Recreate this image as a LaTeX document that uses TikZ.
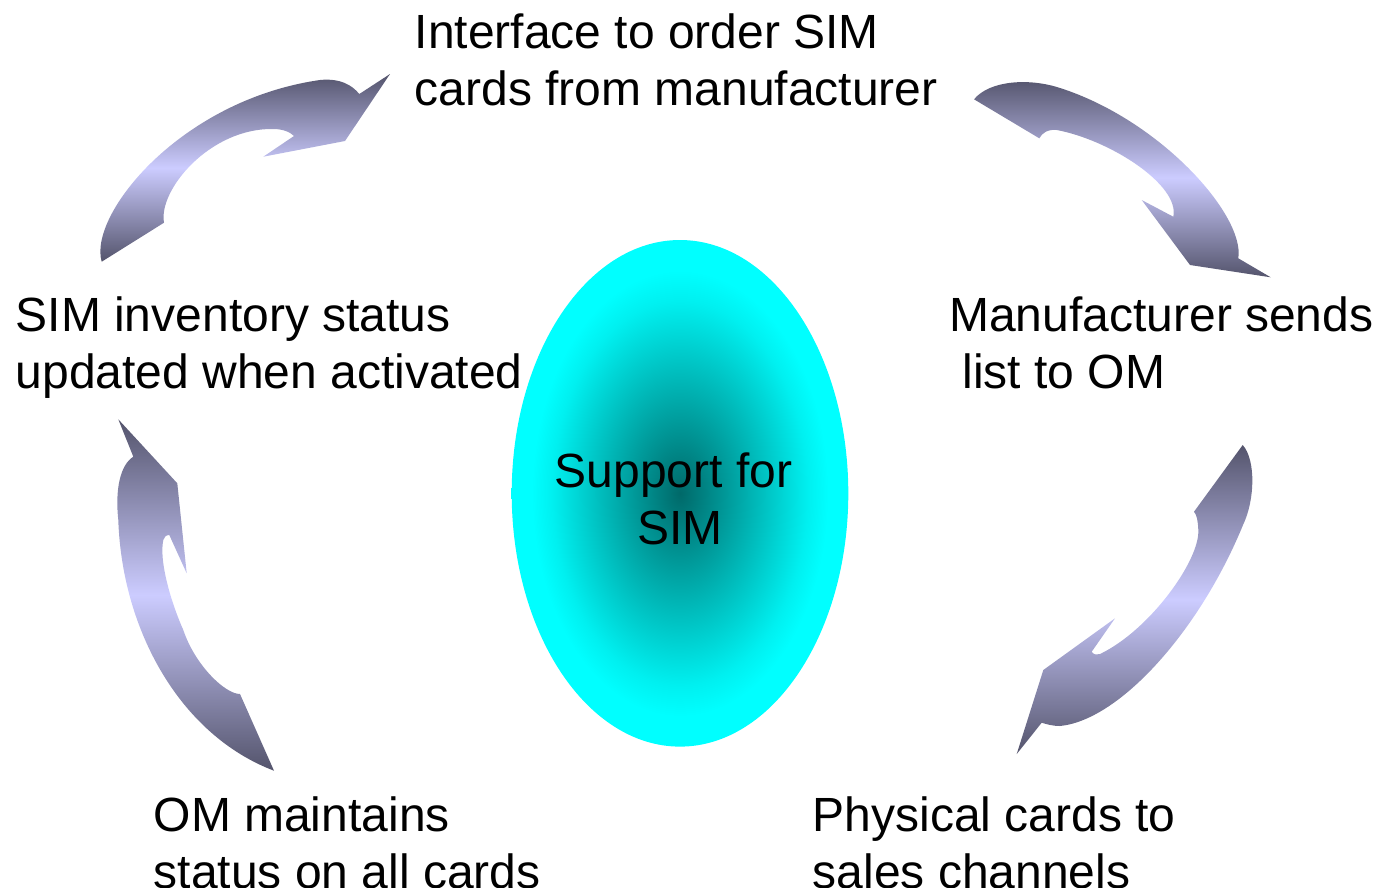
\documentclass[tikz,border=0pt]{standalone}
\usepackage{fontspec}
\setmainfont{Liberation Sans}
\usetikzlibrary{shapes.geometric}

\definecolor{arrowDark}{RGB}{84,84,108}
\definecolor{arrowLight}{RGB}{204,204,255}
\definecolor{coreDark}{RGB}{0,105,105}
\definecolor{coreMid}{RGB}{0,190,190}
\definecolor{coreRim}{RGB}{0,240,240}

% teal core fading out to cyan towards the rim
\pgfdeclareradialshading{coreglow}{\pgfpointorigin}{%
  color(0bp)=(coreDark); color(12bp)=(coreMid); color(19bp)=(coreRim);
  color(22bp)=(cyan); color(50bp)=(cyan)}

\begin{document}
\begin{tikzpicture}[x=1pt,y=-1pt,
  bigtext/.style={font=\fontsize{48}{57}\selectfont},
  % anchored at the baseline of the second line
  cyclelabel/.style={bigtext, anchor=base west, align=left, inner sep=0pt},
  curvedarrow/.style={top color=arrowDark, bottom color=arrowDark,
    middle color=arrowLight, draw=none}]

\useasboundingbox (0,0) rectangle (1380,887);

% centre
\node[ellipse, minimum width=336.6pt, minimum height=506.6pt, inner sep=0pt,
  shade, shading=coreglow] (core) at (680,493.3) {};
\node[bigtext, align=center, inner sep=0pt] (coretext) at (680,498.5)
  {Support for\kern13.3pt\\SIM};

% top-left arrow, pointing right
\path[curvedarrow] (101.7,261.7) .. controls (88,215) and (180,100) .. (320,80)
  .. controls (340,78) and (352,85) .. (359.3,94) -- (390,74) -- (345,141)
  -- (263.3,156.7) -- (294,136) .. controls (290,132) and (283,129) .. (273,129)
  .. controls (210,128) and (158,190) .. (164,222.7) -- cycle;

% top-right arrow, pointing down
\path[curvedarrow] (974,99.3) .. controls (990,80) and (1030,78) .. (1060,88)
  .. controls (1160,120) and (1245,215) .. (1238.3,258.3) -- (1270.7,277.3)
  -- (1190,265) -- (1141.7,200) -- (1173.3,216.7)
  .. controls (1180,185) and (1110,140) .. (1056.7,130)
  .. controls (1048,129) and (1042,133) .. (1039.3,138.3) -- cycle;

% lower-right arrow, pointing down-left
\path[curvedarrow] (1242.7,445) .. controls (1256,460) and (1255,500) .. (1243,525)
  .. controls (1200,630) and (1120,720) .. (1060,726)
  .. controls (1052,726) and (1046,724) .. (1041.7,722.7) -- (1016.7,754)
  -- (1043.3,670) -- (1115,618.3) -- (1091.7,651.7)
  .. controls (1094,655) and (1097,655) .. (1100,654)
  .. controls (1150,630) and (1200,560) .. (1198.3,530)
  .. controls (1198,522) and (1197,515) .. (1194,511.7) -- cycle;

% lower-left arrow, pointing up
\path[curvedarrow] (118.3,419.3) -- (133.3,456.7)
  .. controls (120,465) and (115,490) .. (118.3,520)
  .. controls (122,630) and (180,735) .. (274,770.7) -- (240,694)
  .. controls (225,694) and (195,665) .. (183.3,630)
  .. controls (170,600) and (159,560) .. (163.3,540)
  .. controls (164,537) and (166,535) .. (169.3,535)
  -- (186.7,573.3) -- (177.3,483.3) -- cycle;

% steps of the cycle
\node[cyclelabel] (order) at (414.5,105.5) {Interface to order SIM\\cards from manufacturer};
\node[cyclelabel] (listing) at (949,388) {Manufacturer sends\\\kern0.278em list to OM};
\node[cyclelabel] (channels) at (812.5,888) {Physical cards to\\sales channels};
\node[cyclelabel] (status) at (153.5,888) {OM maintains\\status on all cards};
\node[cyclelabel] (inventory) at (15.5,388.5) {SIM inventory status\\updated when activated};

\end{tikzpicture}
\end{document}
